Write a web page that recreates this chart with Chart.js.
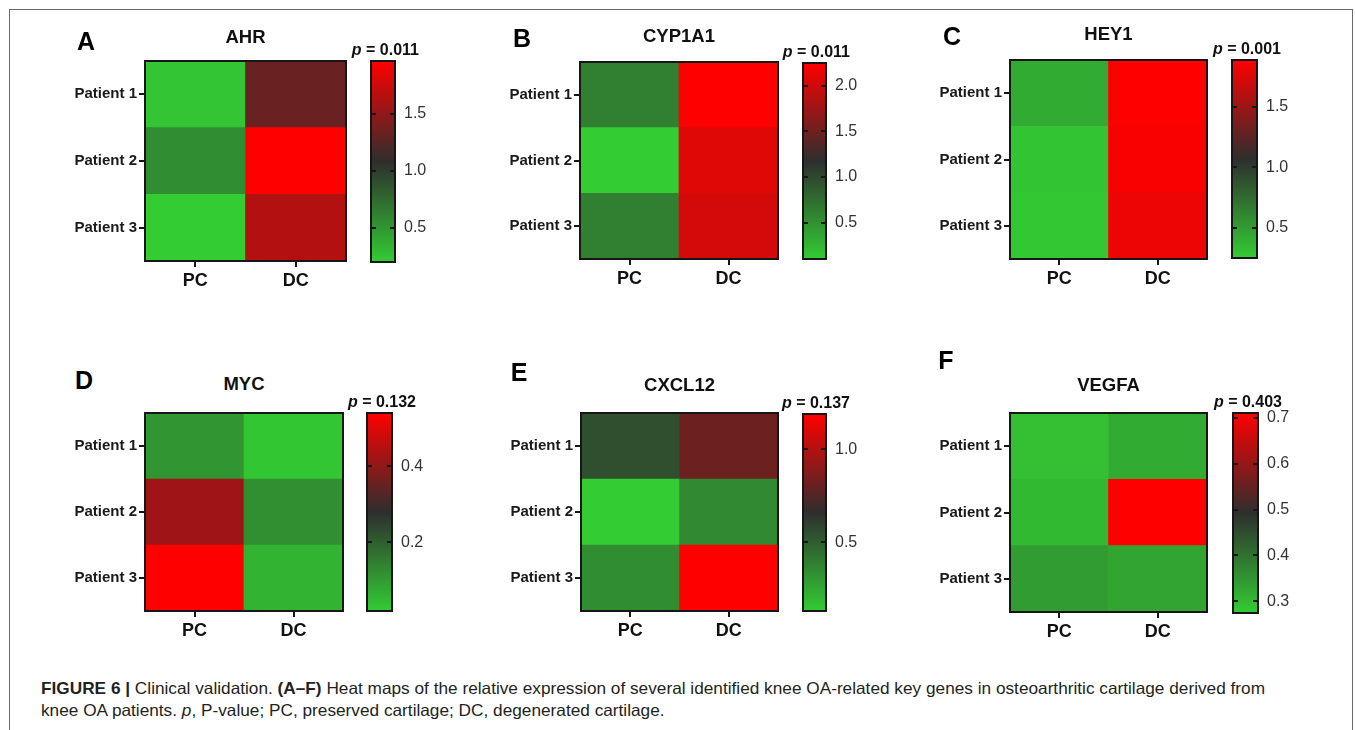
<!DOCTYPE html>
<html><head><meta charset="utf-8">
<script src="https://cdn.jsdelivr.net/npm/chart.js@4/dist/chart.umd.min.js"></script>
<style>
html,body{margin:0;padding:0;background:#fff;}
body{width:1355px;height:730px;overflow:hidden;position:relative;font-family:"Liberation Sans",Arial,Helvetica,sans-serif;}
.frame{position:absolute;left:9px;top:9px;width:1344px;height:760px;border:1px solid #6a6a6a;box-sizing:border-box;}
canvas{position:absolute;}
.letter{position:absolute;font-weight:bold;font-size:25px;color:#000;line-height:1;transform:translate(-50%,-50%);}
.title{position:absolute;font-weight:bold;font-size:18.5px;color:#111;transform:translate(-50%,-50%);white-space:nowrap;line-height:1;}
.pval{position:absolute;font-weight:bold;font-size:16px;color:#111;transform:translate(-100%,-50%);white-space:nowrap;line-height:1;}
.cap{position:absolute;left:41px;font-size:16.5px;color:#231f20;white-space:nowrap;transform-origin:0 50%;line-height:1;font-family:"Liberation Sans",Arial,sans-serif;}
</style></head>
<body>
<div class="frame"></div>
<div id="root"></div>
<div class="cap" id="cap1" style="top:680px"><b>FIGURE 6 |</b> Clinical validation. <b>(A–F)</b> Heat maps of the relative expression of several identified knee OA-related key genes in osteoarthritic cartilage derived from</div>
<div class="cap" id="cap2" style="top:702px">knee OA patients. <i>p</i>, P-value; PC, preserved cartilage; DC, degenerated cartilage.</div>
<script>
// ---------- DATA ----------
const genes = ['AHR', 'CYP1A1', 'HEY1', 'MYC', 'CXCL12', 'VEGFA'];
const panelLetters = ['A', 'B', 'C', 'D', 'E', 'F'];
const groups = ['PC', 'DC'];
const patients = ['Patient 1', 'Patient 2', 'Patient 3'];
const pValues = ['0.011', '0.011', '0.001', '0.132', '0.137', '0.403'];

// relative expression, order: Patient 1, Patient 2, Patient 3
const ahrPC = [0.24, 0.55, 0.20];
const ahrDC = [1.33, 1.96, 1.64];
const cyp1a1PC = [0.62, 0.10, 0.62];
const cyp1a1DC = [2.25, 2.09, 2.03];
const hey1PC = [0.42, 0.29, 0.27];
const hey1DC = [1.89, 1.87, 1.82];
const mycPC = [0.11, 0.42, 0.54];
const mycDC = [0.03, 0.12, 0.06];
const cxcl12PC = [0.55, 0.13, 0.34];
const cxcl12DC = [0.82, 0.35, 1.19];
const vegfaPC = [0.29, 0.30, 0.34];
const vegfaDC = [0.32, 0.711, 0.33];

// colour-scale ranges [min, max] and colour-bar tick labels
const ahrRange = [0.20, 1.96];
const cyp1a1Range = [0.10, 2.25];
const hey1Range = [0.25, 1.89];
const mycRange = [0.02, 0.54];
const cxcl12Range = [0.13, 1.19];
const vegfaRange = [0.274, 0.711];
const ahrTicks = [0.5, 1.0, 1.5];
const cyp1a1Ticks = [0.5, 1.0, 1.5, 2.0];
const hey1Ticks = [0.5, 1.0, 1.5];
const mycTicks = [0.2, 0.4];
const cxcl12Ticks = [0.5, 1.0];
const vegfaTicks = [0.3, 0.4, 0.5, 0.6, 0.7];

const pcSeries = [ahrPC, cyp1a1PC, hey1PC, mycPC, cxcl12PC, vegfaPC];
const dcSeries = [ahrDC, cyp1a1DC, hey1DC, mycDC, cxcl12DC, vegfaDC];
const ranges = [ahrRange, cyp1a1Range, hey1Range, mycRange, cxcl12Range, vegfaRange];
const tickSets = [ahrTicks, cyp1a1Ticks, hey1Ticks, mycTicks, cxcl12Ticks, vegfaTicks];

// ---------- LAYOUT (pixel boxes: heat map area, colour bar area, text anchors) ----------
const heatBoxes = [[145,61,346,261],[580,62,778,259],[1010,60,1207,259],[145,413,343,611],[581,413,778,611],[1010,413,1207,612]];
const barBoxes  = [[371,61,395,262],[803,63,826,259],[1232,60,1257,258],[367,413,392,611],[803,414,826,611],[1233,413,1258,613]];
const letterPos = [[86,41],[522,38],[952,36],[84,380],[519,372],[946,360]];
const titleY = [37,36,34,384,385,385];

const GREEN = [51,204,51], DARK = [46,46,46], RED = [255,0,0];
function mix(a,b,t){return a.map((x,i)=>Math.round(x+(b[i]-x)*t));}
function cellColor(v, r){
  let t = (v - r[0]) / (r[1] - r[0]); t = Math.max(0, Math.min(1, t));
  const c = t < 0.5 ? mix(GREEN, DARK, t/0.5) : mix(DARK, RED, (t-0.5)/0.5);
  return `rgb(${c[0]},${c[1]},${c[2]})`;
}
const frameBox = {
  id:'frameBox',
  afterDatasetsDraw(chart, args, opts){
    const {ctx, chartArea:a} = chart;
    ctx.save();
    ctx.strokeStyle = '#161616'; ctx.lineWidth = 2;
    ctx.strokeRect(a.left, a.top, a.right-a.left, a.bottom-a.top);
    if (opts && opts.ticks) {
      const ys = chart.scales.y;
      ctx.lineWidth = 2;
      ys.ticks.forEach(tk => {
        const y = Math.round(ys.getPixelForValue(tk.value));
        ctx.beginPath();
        ctx.moveTo(a.left, y); ctx.lineTo(a.left+5, y);
        ctx.moveTo(a.right-5, y); ctx.lineTo(a.right, y);
        ctx.stroke();
      });
    }
    ctx.restore();
  }
};
const PAD = 14, BPAD = 24, YAXW = 85, XAXH = 40, BARAXW = 50;
const root = document.getElementById('root');
function addCanvas(left, top, w, h){
  const c = document.createElement('canvas');
  c.width = w; c.height = h;
  c.style.left = left+'px'; c.style.top = top+'px';
  c.style.width = w+'px'; c.style.height = h+'px';
  root.appendChild(c);
  return c;
}
function addDiv(cls, x, y, html){
  const d = document.createElement('div');
  d.className = cls; d.style.left = x+'px'; d.style.top = y+'px'; d.innerHTML = html;
  root.appendChild(d);
}
Chart.defaults.font.family = '"Liberation Sans", Arial, Helvetica, sans-serif';
Chart.defaults.animation = false;

genes.forEach((gene, k) => {
  const [hl, ht, hr, hb] = heatBoxes[k];
  const range = ranges[k];
  const pc = pcSeries[k], dc = dcSeries[k];
  // heat map: rows stacked from Patient 3 (bottom) to Patient 1 (top)
  const cv = addCanvas(hl - PAD - YAXW, ht - PAD, PAD + YAXW + (hr-hl) + PAD, PAD + (hb-ht) + XAXH + PAD);
  const datasets = [2,1,0].map(i => ({
    label: patients[i],
    data: groups.map(() => 1),
    backgroundColor: [cellColor(pc[i], range), cellColor(dc[i], range)],
    borderWidth: 0,
    categoryPercentage: 1, barPercentage: 1
  }));
  new Chart(cv, {
    type: 'bar',
    data: { labels: groups, datasets },
    options: {
      responsive: false, animation: false,
      layout: { padding: { left: PAD, right: PAD, top: PAD, bottom: PAD } },
      plugins: { legend: { display: false }, tooltip: { enabled: false }, frameBox: {} },
      scales: {
        x: {
          stacked: true, offset: true,
          grid: { offset: false, drawOnChartArea: false, tickLength: 6, tickColor: '#161616', lineWidth: 2 },
          border: { display: false },
          ticks: { font: { size: 18, weight: 'bold' }, color: '#111', padding: 3 },
          afterFit: s => { s.height = XAXH; }
        },
        y: {
          stacked: true, min: 0, max: 3,
          afterBuildTicks: s => { s.ticks = [0.5, 1.5, 2.5].map(v => ({ value: v })); },
          grid: { drawOnChartArea: false, tickLength: 6, tickColor: '#161616', lineWidth: 2 },
          border: { display: false },
          ticks: { font: { size: 15, weight: 'bold' }, color: '#1a1a1a', padding: 2,
                   callback: v => patients[Math.round(2.5 - v)] },
          afterFit: s => { s.width = YAXW; }
        }
      }
    },
    plugins: [frameBox]
  });

  // colour bar
  const [bl, bt, br, bb] = barBoxes[k];
  const cb = addCanvas(bl - BPAD, bt - BPAD, BPAD + (br-bl) + BARAXW + BPAD, BPAD + (bb-bt) + BPAD);
  const ticks = tickSets[k];
  new Chart(cb, {
    type: 'bar',
    data: { labels: [gene], datasets: [{
      data: [range.slice()],
      backgroundColor: ctx => {
        const a = ctx.chart.chartArea;
        if (!a) return 'rgb(46,46,46)';
        const g = ctx.chart.ctx.createLinearGradient(0, a.bottom, 0, a.top);
        g.addColorStop(0, 'rgb(51,204,51)');
        g.addColorStop(0.5, 'rgb(46,46,46)');
        g.addColorStop(1, 'rgb(255,0,0)');
        return g;
      },
      borderWidth: 0, categoryPercentage: 1, barPercentage: 1
    }]},
    options: {
      responsive: false, animation: false,
      layout: { padding: { left: BPAD, right: BPAD, top: BPAD, bottom: BPAD } },
      plugins: { legend: { display: false }, tooltip: { enabled: false }, frameBox: { ticks: true } },
      scales: {
        x: { display: false },
        y: {
          position: 'right', min: range[0], max: range[1],
          afterBuildTicks: s => { s.ticks = ticks.map(v => ({ value: v })); },
          grid: { display: false, drawTicks: false },
          border: { display: false },
          ticks: { font: { size: 16 }, color: '#333', padding: 9, callback: v => v.toFixed(1) },
          afterFit: s => { s.width = BARAXW; }
        }
      }
    },
    plugins: [frameBox]
  });

  addDiv('letter', letterPos[k][0], letterPos[k][1], panelLetters[k]);
  addDiv('title', (hl + hr) / 2, titleY[k], gene);
  addDiv('pval', br + 24, bt - 11, '<i>p</i> = ' + pValues[k]);
});

// fit caption lines to the printed line width (same horizontal compression for both lines)
(function(){
  const c1 = document.getElementById('cap1'), c2 = document.getElementById('cap2');
  const s = 1224 / c1.getBoundingClientRect().width;
  c1.style.transform = 'scaleX(' + s + ')';
  c2.style.transform = 'scaleX(' + s + ')';
})();
</script>
</body></html>
